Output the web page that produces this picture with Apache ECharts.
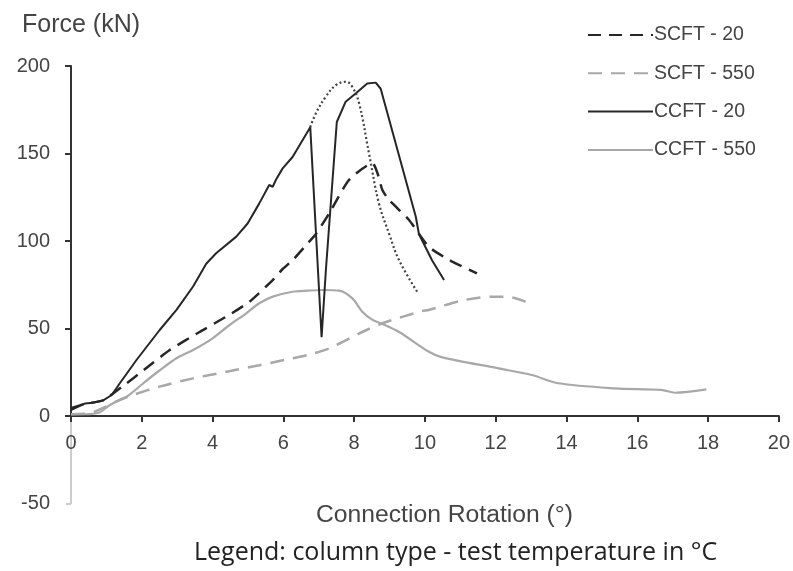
<!DOCTYPE html>
<html>
<head>
<meta charset="utf-8">
<script src="https://cdn.jsdelivr.net/npm/echarts@6/dist/echarts.min.js"></script>
<style>
html,body{margin:0;padding:0;background:#fff;}
#chart{width:793px;height:571px;}
</style>
</head>
<body>
<div id="chart"></div>
<script>
var xTicks = [0,2,4,6,8,10,12,14,16,18,20];
var yTicks = [0,50,100,150,200];
var yTicksBelow = [-50];

var scft20 = [[0,4.4],[0.4,7],[0.91,9],[1.57,18.7],[2.04,26],[2.79,37.7],[3.63,48],[4.39,56.8],[5.04,65.3],[5.7,77.7],[5.98,84],[6.26,89],[6.69,98.7],[6.92,104],[7.3,116],[7.86,135],[8.52,144.4],[8.66,138.7],[8.8,129],[8.99,123.4],[9.55,112],[10.11,96.7],[10.77,88.2],[11.47,81.5]];
var scft550 = [[0,1],[0.5,1.5],[1,5.5],[1.4,9.5],[1.75,12],[2.5,16.8],[3.45,21.5],[4.39,25.3],[5.32,29],[6.26,33],[6.69,34.9],[7.3,38.7],[8.23,48],[8.8,53],[9.92,60],[10.11,60.6],[11.05,66],[11.9,68.2],[12.46,67.8],[12.84,65.3],[13.07,62.9]];
var ccft20 = [[0,3.4],[0.4,7.2],[0.62,7.6],[0.9,8.8],[1.15,12],[1.38,18.7],[1.85,32],[2.5,49],[2.98,60.6],[3.45,74],[3.82,87],[4.1,93],[4.67,102.5],[4.99,110],[5.32,121.5],[5.6,132],[5.7,131],[5.79,135],[5.98,141.5],[6.26,148],[6.76,165],[7.08,45],[7.2,83],[7.51,168],[7.76,179.6],[8.05,184.4],[8.37,190],[8.61,190.5],[8.75,187],[9.74,114],[9.83,104],[10.2,89],[10.54,77.7]];
var ccft20Dotted = [[6.76,165],[6.92,173],[7.2,182.5],[7.48,189],[7.77,191],[7.95,188],[8.14,178.7],[8.42,150],[8.7,121.5],[8.99,104],[9.27,89],[9.78,71]];
var ccft550 = [[0,1],[0.4,1],[0.8,2],[1.1,6.3],[1.57,11],[2.04,18.7],[2.5,26],[2.98,33],[3.45,37.7],[4.0,44.4],[4.48,52],[4.95,58.7],[5.32,64.4],[5.7,68.2],[6.26,71],[6.69,71.6],[7.11,72],[7.58,71.6],[7.95,67.2],[8.23,59.6],[8.52,54.9],[8.8,52.6],[9.27,48],[10.11,36.7],[10.49,33.5],[12.08,27.2],[13.02,23.4],[13.77,18.7],[15.37,15.8],[16.68,14.9],[17.06,13.3],[17.95,15.2]];

var names = ['SCFT - 20','SCFT - 550','CCFT - 20','CCFT - 550'];
var DARK = '#262626', GRAY = '#a8a8a8';
var FONT = 'Liberation Sans, Arial';

var chart = echarts.init(document.getElementById('chart'), null, {renderer:'canvas'});
chart.setOption({
  animation:false,
  backgroundColor:'#fff',
  grid:[
    {left:71, right:12, top:66, height:350, containLabel:false},
    {left:71, right:12, top:416, height:87.5, containLabel:false}
  ],
  legend:{
    data:names, orient:'vertical', left:582, top:20,
    itemWidth:65, itemHeight:20, itemGap:18.3,
    itemStyle:{opacity:0},
    textStyle:{fontFamily:FONT, fontSize:19.5, color:'#444', lineHeight:20, padding:[0,0,0,-4]}
  },
  graphic:[
    {type:'text', left:22, top:13, style:{text:'Force (kN)', fontFamily:FONT, fontSize:25, fill:'#444'}},
    {type:'text', left:316, top:503, style:{text:'Connection Rotation (°)', fontFamily:FONT, fontSize:24.7, fill:'#444'}},
    {type:'text', left:194, top:540, style:{text:'Legend: column type - test temperature in °C', fontFamily:'Open Sans, Noto Sans', fontSize:25, fill:'#222'}}
  ],
  xAxis:[
    {gridIndex:0, type:'value', min:0, max:20, interval:2,
     axisLine:{show:true, onZero:false, lineStyle:{color:'#333', width:2}},
     axisTick:{show:true, inside:false, length:6, lineStyle:{color:'#333', width:2}},
     axisLabel:{show:true, margin:17, fontFamily:FONT, fontSize:20, color:'#444',
       customValues:xTicks},
     splitLine:{show:false}},
    {gridIndex:1, type:'value', min:0, max:20, show:false}
  ],
  yAxis:[
    {gridIndex:0, type:'value', min:0, max:200, interval:50,
     axisLine:{show:true, onZero:false, lineStyle:{color:'#333', width:2}},
     axisTick:{show:true, inside:false, length:6, lineStyle:{color:'#333', width:2}},
     axisLabel:{show:true, margin:21, fontFamily:FONT, fontSize:20, color:'#444', customValues:yTicks},
     splitLine:{show:false}},
    {gridIndex:1, type:'value', min:-50, max:0, interval:50,
     axisLine:{show:true, onZero:false, lineStyle:{color:'#bbb', width:1.5}},
     axisTick:{show:true, inside:false, length:5, lineStyle:{color:'#bbb', width:1.5}, customValues:yTicksBelow},
     axisLabel:{show:true, margin:21, fontFamily:FONT, fontSize:20, color:'#444', customValues:yTicksBelow},
     splitLine:{show:false}}
  ],
  series:[
    {name:names[3], type:'line', data:ccft550, symbol:'none', smooth:0.3, z:4,
     lineStyle:{color:GRAY, width:2.2, type:'solid'}, itemStyle:{color:GRAY}},
    {name:names[1], type:'line', data:scft550, symbol:'none', smooth:0.3, z:4,
     lineStyle:{color:GRAY, width:2.5, type:[14,9]}, itemStyle:{color:GRAY}},
    {name:names[0], type:'line', data:scft20, symbol:'none', smooth:0.2, z:5,
     lineStyle:{color:DARK, width:2.5, type:[13,8]}, itemStyle:{color:DARK}},
    {name:names[2], type:'line', data:ccft20, symbol:'none', z:6,
     lineStyle:{color:DARK, width:2, type:'solid'}, itemStyle:{color:DARK}},
    {name:'CCFT - 20 dotted', type:'line', data:ccft20Dotted, symbol:'none', smooth:0.4, z:6,
     lineStyle:{color:'#444', width:2.2, type:[2,2.5]}, itemStyle:{color:'#444'}}
  ]
});
</script>
</body>
</html>
